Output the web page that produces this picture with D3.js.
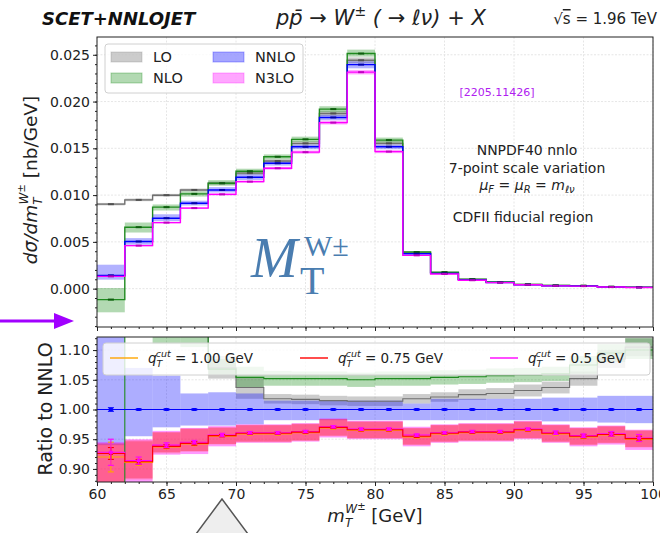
<!DOCTYPE html>
<html>
<head>
<meta charset="utf-8">
<script src="https://cdn.jsdelivr.net/npm/d3@7"></script>
<style>
body { margin: 0; background: #fff; }
text { font-family: "DejaVu Sans", sans-serif; }
</style>
</head>
<body>
<div id="chart"></div>
<script>
// bin edges (GeV)
var binEdges = [60, 62, 64, 66, 68, 70, 72, 74, 76, 78, 80, 82, 84, 86, 88, 90, 92, 94, 96, 98, 100];

// upper panel: d sigma / d mT  [nb/GeV]
var loC   = [0.00903, 0.00949, 0.00999, 0.01055, 0.01127, 0.01235, 0.01364, 0.01553, 0.01873, 0.02441, 0.01553, 0.00380, 0.00171, 0.00099, 0.00069, 0.00045, 0.00034, 0.00031, 0.00020, 0.00016];
var loLo  = [0.00890, 0.00935, 0.00985, 0.01040, 0.01110, 0.01215, 0.01345, 0.01530, 0.01845, 0.02410, 0.01530, 0.00374, 0.00168, 0.00097, 0.00068, 0.00044, 0.00033, 0.00030, 0.00019, 0.00015];
var loHi  = [0.00916, 0.00963, 0.01013, 0.01070, 0.01144, 0.01255, 0.01383, 0.01576, 0.01901, 0.02472, 0.01576, 0.00386, 0.00174, 0.00101, 0.00070, 0.00046, 0.00035, 0.00032, 0.00021, 0.00017];

var nloC  = [-0.00117, 0.00657, 0.00871, 0.01013, 0.01127, 0.01255, 0.01410, 0.01596, 0.01919, 0.02513, 0.01588, 0.00391, 0.00176, 0.00101, 0.00071, 0.00046, 0.00034, 0.00031, 0.00020, 0.00016];
var nloLo = [-0.00253, 0.00600, 0.00835, 0.00984, 0.01100, 0.01228, 0.01382, 0.01568, 0.01885, 0.02480, 0.01560, 0.00383, 0.00172, 0.00099, 0.00069, 0.00045, 0.00033, 0.00030, 0.00019, 0.00015];
var nloHi = [0.00007, 0.00707, 0.00900, 0.01040, 0.01160, 0.01282, 0.01435, 0.01625, 0.01950, 0.02555, 0.01615, 0.00399, 0.00180, 0.00103, 0.00073, 0.00047, 0.00035, 0.00032, 0.00021, 0.00017];

var nnloC  = [0.00142, 0.00504, 0.00753, 0.00913, 0.01055, 0.01190, 0.01340, 0.01517, 0.01830, 0.02395, 0.01517, 0.00373, 0.00163, 0.00094, 0.00066, 0.00042, 0.00031, 0.00028, 0.00018, 0.00014];
var nnloLo = [0.00096, 0.00470, 0.00722, 0.00889, 0.01028, 0.01162, 0.01315, 0.01490, 0.01800, 0.02355, 0.01490, 0.00366, 0.00160, 0.00092, 0.00065, 0.00041, 0.00030, 0.00027, 0.00017, 0.00013];
var nnloHi = [0.00256, 0.00540, 0.00795, 0.00940, 0.01085, 0.01222, 0.01362, 0.01540, 0.01858, 0.02430, 0.01540, 0.00380, 0.00166, 0.00096, 0.00067, 0.00043, 0.00032, 0.00029, 0.00019, 0.00015];

var n3loC  = [0.00131, 0.00460, 0.00706, 0.00861, 0.01008, 0.01144, 0.01287, 0.01459, 0.01775, 0.02314, 0.01465, 0.00356, 0.00157, 0.00090, 0.00064, 0.00041, 0.00030, 0.00027, 0.00017, 0.00013];
var n3loLo = [0.00125, 0.00452, 0.00697, 0.00851, 0.00996, 0.01131, 0.01272, 0.01442, 0.01755, 0.02290, 0.01448, 0.00351, 0.00155, 0.00089, 0.00063, 0.00040, 0.00029, 0.00026, 0.00016, 0.00012];
var n3loHi = [0.00137, 0.00468, 0.00715, 0.00871, 0.01020, 0.01157, 0.01302, 0.01476, 0.01795, 0.02338, 0.01482, 0.00361, 0.00159, 0.00091, 0.00065, 0.00042, 0.00031, 0.00028, 0.00018, 0.00014];

// lower panel: ratio to NNLO
var rLoC  = [6.40, 1.88, 1.33, 1.155, 1.070, 1.037, 1.018, 1.017, 1.015, 1.014, 1.014, 1.018, 1.021, 1.025, 1.027, 1.032, 1.037, 1.052, 1.085, 1.105];
var rLoLo = [6.20, 1.82, 1.30, 1.135, 1.052, 1.018, 1.010, 1.009, 1.007, 1.006, 1.006, 1.010, 1.013, 1.016, 1.018, 1.022, 1.027, 1.040, 1.070, 1.090];
var rLoHi = [6.60, 1.94, 1.36, 1.175, 1.090, 1.054, 1.026, 1.025, 1.023, 1.022, 1.022, 1.026, 1.029, 1.034, 1.036, 1.042, 1.047, 1.064, 1.100, 1.120];

var rNloC  = [-0.82, 1.30, 1.157, 1.125, 1.068, 1.054, 1.052, 1.052, 1.052, 1.050, 1.052, 1.052, 1.054, 1.055, 1.057, 1.058, 1.060, 1.075, 1.095, 1.100];
var rNloLo = [-1.78, 1.19, 1.110, 1.105, 1.058, 1.037, 1.040, 1.040, 1.040, 1.038, 1.040, 1.040, 1.042, 1.043, 1.045, 1.046, 1.048, 1.060, 1.080, 1.085];
var rNloHi = [0.05, 1.40, 1.200, 1.150, 1.085, 1.072, 1.065, 1.064, 1.064, 1.062, 1.064, 1.064, 1.066, 1.067, 1.069, 1.070, 1.072, 1.090, 1.110, 1.120];

var rNnloC   = [1, 1, 1, 1, 1, 1, 1, 1, 1, 1, 1, 1, 1, 1, 1, 1, 1, 1, 1, 1];
var rNnloLo  = [0.940, 0.955, 0.970, 0.973, 0.973, 0.975, 0.982, 0.982, 0.982, 0.982, 0.982, 0.982, 0.982, 0.982, 0.982, 0.982, 0.980, 0.980, 0.978, 0.977];
var rNnloHi  = [1.250, 1.070, 1.057, 1.027, 1.029, 1.027, 1.015, 1.015, 1.015, 1.015, 1.015, 1.010, 1.018, 1.018, 1.018, 1.018, 1.020, 1.020, 1.023, 1.023];
var rNnloErr = [0.003, 0.001, 0.001, 0.001, 0.001, 0.001, 0.001, 0.001, 0.001, 0.001, 0.001, 0.001, 0.001, 0.001, 0.001, 0.001, 0.001, 0.001, 0.001, 0.001];

// N3LO / NNLO for three qT cuts
var rQ100C  = [0.920, 0.911, 0.937, 0.942, 0.955, 0.959, 0.959, 0.961, 0.969, 0.965, 0.965, 0.954, 0.959, 0.961, 0.961, 0.965, 0.959, 0.954, 0.957, 0.950];
var rQ100Lo = [0.868, 0.882, 0.926, 0.929, 0.941, 0.945, 0.945, 0.947, 0.955, 0.951, 0.951, 0.940, 0.945, 0.947, 0.947, 0.951, 0.945, 0.940, 0.943, 0.936];
var rQ100Hi = [0.941, 0.946, 0.961, 0.967, 0.969, 0.973, 0.973, 0.975, 0.983, 0.979, 0.979, 0.968, 0.973, 0.975, 0.975, 0.979, 0.973, 0.968, 0.971, 0.964];
var rQ100Err = [0.025, 0.005, 0.003, 0.003, 0.002, 0.002, 0.002, 0.002, 0.002, 0.002, 0.002, 0.002, 0.002, 0.002, 0.002, 0.002, 0.002, 0.003, 0.003, 0.004];

var rQ075C  = [0.926, 0.912, 0.938, 0.943, 0.956, 0.960, 0.960, 0.962, 0.970, 0.966, 0.966, 0.955, 0.960, 0.962, 0.962, 0.966, 0.960, 0.955, 0.958, 0.951];
var rQ075Lo = [0.870, 0.884, 0.928, 0.930, 0.942, 0.946, 0.946, 0.948, 0.956, 0.952, 0.952, 0.941, 0.946, 0.948, 0.948, 0.952, 0.946, 0.941, 0.944, 0.937];
var rQ075Hi = [0.943, 0.948, 0.962, 0.968, 0.970, 0.974, 0.974, 0.976, 0.984, 0.980, 0.980, 0.969, 0.974, 0.976, 0.976, 0.980, 0.974, 0.969, 0.972, 0.965];
var rQ075Err = [0.010, 0.004, 0.003, 0.003, 0.002, 0.002, 0.002, 0.002, 0.002, 0.002, 0.002, 0.002, 0.002, 0.002, 0.002, 0.002, 0.002, 0.003, 0.003, 0.004];

var rQ050C  = [0.928, 0.914, 0.940, 0.945, 0.957, 0.961, 0.961, 0.963, 0.971, 0.967, 0.967, 0.957, 0.961, 0.963, 0.963, 0.967, 0.961, 0.956, 0.959, 0.952];
var rQ050Lo = [0.870, 0.878, 0.924, 0.925, 0.938, 0.944, 0.944, 0.946, 0.953, 0.950, 0.950, 0.938, 0.944, 0.946, 0.946, 0.950, 0.944, 0.938, 0.941, 0.932];
var rQ050Hi = [0.945, 0.950, 0.964, 0.969, 0.972, 0.975, 0.975, 0.977, 0.985, 0.981, 0.981, 0.971, 0.975, 0.977, 0.977, 0.981, 0.975, 0.970, 0.973, 0.966];
var rQ050Err = [0.022, 0.006, 0.004, 0.003, 0.003, 0.002, 0.002, 0.002, 0.002, 0.002, 0.002, 0.002, 0.002, 0.002, 0.002, 0.002, 0.003, 0.003, 0.004, 0.006];

var upperTicks = [0.000, 0.005, 0.010, 0.015, 0.020, 0.025];
var lowerTicks = [0.90, 0.95, 1.00, 1.05, 1.10];
var xTicks = [60, 65, 70, 75, 80, 85, 90, 95, 100];

function init() {
    var w = 660;
    var h = 533;
    var left = 97, right = 653;
    var upTop = 37, upBot = 327;
    var loTop = 337, loBot = 482;
    var font = "DejaVu Sans";

    var x = d3.scaleLinear().domain([60, 100]).range([left, right]);
    var yU = d3.scaleLinear().domain([-0.0041, 0.0269]).range([upBot, upTop]);
    var yL = d3.scaleLinear().domain([0.878, 1.122]).range([loBot, loTop]);

    var svg = d3.select("#chart")
        .append("svg")
        .attr("width", w)
        .attr("height", h);

    var defs = svg.append("defs");
    defs.append("clipPath").attr("id", "clipU").append("rect")
        .attr("x", left).attr("y", upTop).attr("width", right - left).attr("height", upBot - upTop);
    defs.append("clipPath").attr("id", "clipL").append("rect")
        .attr("x", left).attr("y", loTop).attr("width", right - left).attr("height", loBot - loTop);

    // grids
    function grid(y, ticks, top, bot) {
        var g = svg.append("g").attr("stroke", "#e0e0e0").attr("stroke-width", 0.8).attr("stroke-dasharray", "2,1.5");
        xTicks.forEach(function(t) {
            g.append("line").attr("x1", x(t)).attr("x2", x(t)).attr("y1", top).attr("y2", bot);
        });
        ticks.forEach(function(t) {
            g.append("line").attr("x1", left).attr("x2", right).attr("y1", y(t)).attr("y2", y(t));
        });
    }
    grid(yU, upperTicks, upTop, upBot);
    grid(yL, lowerTicks, loTop, loBot);

    var step = function(y, vals) {
        var pts = vals.map(function(v, i) { return [binEdges[i], v]; });
        pts.push([binEdges[binEdges.length - 1], vals[vals.length - 1]]);
        return d3.line().curve(d3.curveStepAfter)
            .x(function(d) { return x(d[0]); })
            .y(function(d) { return y(d[1]); })(pts);
    };

    function band(layer, y, lo, hi, color, op) {
        layer.append("g").selectAll("rect")
            .data(lo)
            .join("rect")
            .attr("x", function(d, i) { return x(binEdges[i]); })
            .attr("width", function(d, i) { return x(binEdges[i + 1]) - x(binEdges[i]); })
            .attr("y", function(d, i) { return y(Math.max(lo[i], hi[i])); })
            .attr("height", function(d, i) { return Math.abs(y(lo[i]) - y(hi[i])); })
            .attr("fill", color)
            .attr("fill-opacity", op);
    }

    function stepLine(layer, y, vals, color, width) {
        layer.append("path")
            .attr("d", step(y, vals))
            .attr("fill", "none")
            .attr("stroke", color)
            .attr("stroke-width", width || 1.4);
    }

    function caps(layer, y, vals, color) {
        layer.append("g").selectAll("line")
            .data(vals)
            .join("line")
            .attr("x1", function(d, i) { return x((binEdges[i] + binEdges[i + 1]) / 2) - 3; })
            .attr("x2", function(d, i) { return x((binEdges[i] + binEdges[i + 1]) / 2) + 3; })
            .attr("y1", function(d) { return y(d); })
            .attr("y2", function(d) { return y(d); })
            .attr("stroke", color)
            .attr("stroke-width", 2);
    }

    function errBars(layer, y, vals, errs, color) {
        var g = layer.append("g").attr("stroke", color).attr("stroke-width", 1.1);
        vals.forEach(function(v, i) {
            var cx = x((binEdges[i] + binEdges[i + 1]) / 2);
            g.append("line").attr("x1", cx).attr("x2", cx).attr("y1", y(v - errs[i])).attr("y2", y(v + errs[i]));
            g.append("line").attr("x1", cx - 3).attr("x2", cx + 3).attr("y1", y(v - errs[i])).attr("y2", y(v - errs[i]));
            g.append("line").attr("x1", cx - 3).attr("x2", cx + 3).attr("y1", y(v + errs[i])).attr("y2", y(v + errs[i]));
            g.append("rect").attr("x", cx - 2).attr("y", y(v) - 1.5).attr("width", 4).attr("height", 3)
                .attr("fill", color).attr("stroke", "none");
        });
    }

    // ---- upper panel ----
    var up = svg.append("g").attr("clip-path", "url(#clipU)");
    band(up, yU, loLo, loHi, "#808080", 0.4);
    band(up, yU, nloLo, nloHi, "#008000", 0.3);
    band(up, yU, nnloLo, nnloHi, "#0000ff", 0.3);
    band(up, yU, n3loLo, n3loHi, "#ff00ff", 0.35);
    stepLine(up, yU, loC, "#707070");
    stepLine(up, yU, nloC, "#1f8a1f");
    stepLine(up, yU, nnloC, "#0000ff");
    stepLine(up, yU, n3loC, "#ff00ff");
    caps(up, yU, loC, "#505050");
    caps(up, yU, nloC, "#0d5e0d");
    caps(up, yU, nnloC, "#0000aa");
    caps(up, yU, n3loC, "#c000c0");

    // ---- lower panel ----
    var lo = svg.append("g").attr("clip-path", "url(#clipL)");
    band(lo, yL, rLoLo, rLoHi, "#808080", 0.4);
    band(lo, yL, rNloLo, rNloHi, "#008000", 0.3);
    band(lo, yL, rNnloLo, rNnloHi, "#0000ff", 0.32);
    band(lo, yL, rQ100Lo, rQ100Hi, "#ffa500", 0.3);
    band(lo, yL, rQ050Lo, rQ050Hi, "#ff00ff", 0.4);
    band(lo, yL, rQ075Lo, rQ075Hi, "#ff0000", 0.3);
    stepLine(lo, yL, rLoC, "#707070", 1.1);
    stepLine(lo, yL, rNloC, "#1f8a1f", 1.1);
    stepLine(lo, yL, rNnloC, "#0000ff", 1.1);
    stepLine(lo, yL, rQ100C, "#ffa500", 1.1);
    stepLine(lo, yL, rQ050C, "#ff00ff", 1.1);
    stepLine(lo, yL, rQ075C, "#ff0000", 1.1);
    errBars(lo, yL, rNnloC, rNnloErr, "#0000ff");
    errBars(lo, yL, rQ100C, rQ100Err, "#ffa500");
    errBars(lo, yL, rQ075C, rQ075Err, "#ff0000");
    errBars(lo, yL, rQ050C, rQ050Err, "#ff00ff");

    // ---- axes ----
    function styleAxis(g) {
        g.select(".domain").remove();
        g.attr("font-size", 14).attr("font-family", font);
        g.selectAll(".tick line").attr("stroke", "#222");
        g.selectAll(".tick text").attr("fill", "#222");
    }
    var xMinor = d3.range(60, 101, 1);

    svg.append("g").attr("transform", "translate(0," + upBot + ")")
        .call(d3.axisBottom(x).tickValues(xTicks).tickSize(4).tickFormat("")).call(styleAxis);
    svg.append("g").attr("transform", "translate(0," + upBot + ")")
        .call(d3.axisBottom(x).tickValues(xMinor).tickSize(2).tickFormat("")).call(styleAxis);
    svg.append("g").attr("transform", "translate(" + left + ",0)")
        .call(d3.axisLeft(yU).tickValues(upperTicks).tickSize(4).tickPadding(3).tickFormat(d3.format(".3f"))).call(styleAxis);
    svg.append("g").attr("transform", "translate(" + left + ",0)")
        .call(d3.axisLeft(yU).tickValues(d3.range(-0.004, 0.0265, 0.001)).tickSize(2).tickFormat("")).call(styleAxis);

    svg.append("g").attr("transform", "translate(0," + loBot + ")")
        .call(d3.axisBottom(x).tickValues(xTicks).tickSize(4).tickPadding(3).tickFormat(d3.format("d"))).call(styleAxis);
    svg.append("g").attr("transform", "translate(0," + loBot + ")")
        .call(d3.axisBottom(x).tickValues(xMinor).tickSize(2).tickFormat("")).call(styleAxis);
    svg.append("g").attr("transform", "translate(" + left + ",0)")
        .call(d3.axisLeft(yL).tickValues(lowerTicks).tickSize(4).tickPadding(3).tickFormat(d3.format(".2f"))).call(styleAxis);
    svg.append("g").attr("transform", "translate(" + left + ",0)")
        .call(d3.axisLeft(yL).tickValues(d3.range(0.88, 1.121, 0.01)).tickSize(2).tickFormat("")).call(styleAxis);

    // frames
    svg.append("rect").attr("x", left).attr("y", upTop).attr("width", right - left).attr("height", upBot - upTop)
        .attr("fill", "none").attr("stroke", "#222").attr("stroke-width", 1);
    svg.append("rect").attr("x", left).attr("y", loTop).attr("width", right - left).attr("height", loBot - loTop)
        .attr("fill", "none").attr("stroke", "#222").attr("stroke-width", 1);

    // ---- legends ----
    svg.append("rect").attr("x", 105).attr("y", 44).attr("width", 198).attr("height", 49).attr("rx", 3)
        .attr("fill", "#fff").attr("fill-opacity", 0.8).attr("stroke", "#d0d0d0");
    var legItems = [
        { name: "LO", color: "#808080", op: 0.4, x: 111, y: 52 },
        { name: "NLO", color: "#008000", op: 0.3, x: 111, y: 73 },
        { name: "NNLO", color: "#0000ff", op: 0.35, x: 213, y: 52 },
        { name: "N3LO", color: "#ff00ff", op: 0.35, x: 213, y: 73 }
    ];
    legItems.forEach(function(d) {
        svg.append("rect").attr("x", d.x).attr("y", d.y).attr("width", 31).attr("height", 10)
            .attr("fill", d.color).attr("fill-opacity", d.op).attr("stroke", d.color).attr("stroke-opacity", 0.3);
        svg.append("text").attr("x", d.x + 42).attr("y", d.y + 10).attr("font-size", 14.5).attr("fill", "#222").text(d.name);
    });

    svg.append("rect").attr("x", 103).attr("y", 343).attr("width", 547).attr("height", 32).attr("rx", 3)
        .attr("fill", "#fff").attr("fill-opacity", 0.8).attr("stroke", "#d0d0d0");
    var qItems = [
        { val: "1.00", color: "#ffa500", x: 110 },
        { val: "0.75", color: "#ff0000", x: 300 },
        { val: "0.5", color: "#ff00ff", x: 490 }
    ];
    qItems.forEach(function(d) {
        svg.append("line").attr("x1", d.x).attr("x2", d.x + 28).attr("y1", 358).attr("y2", 358)
            .attr("stroke", d.color).attr("stroke-width", 1.4);
        var t = svg.append("text").attr("x", d.x + 38).attr("y", 363).attr("font-size", 13.5).attr("fill", "#222");
        t.append("tspan").attr("font-style", "italic").text("q");
        t.append("tspan").attr("font-style", "italic").attr("font-size", 9.5).attr("dy", 4).text("T");
        t.append("tspan").attr("font-style", "italic").attr("font-size", 9.5).attr("dx", -5.5).attr("dy", -10).text("cut");
        t.append("tspan").attr("dy", 6).text(" = " + d.val + " GeV");
    });

    // ---- axis labels ----
    var yl = svg.append("text").attr("transform", "translate(37,180) rotate(-90)")
        .attr("text-anchor", "middle").attr("font-size", 18.5).attr("fill", "#222");
    yl.append("tspan").attr("font-style", "italic").text("dσ/dm");
    yl.append("tspan").attr("font-style", "italic").attr("font-size", 12).attr("dy", 5).text("T");
    yl.append("tspan").attr("font-style", "italic").attr("font-size", 12).attr("dx", -7).attr("dy", -14).text("W");
    yl.append("tspan").attr("font-size", 10).attr("dy", -3).text("±");
    yl.append("tspan").attr("dy", 12).text(" [nb/GeV]");

    svg.append("text").attr("transform", "translate(52,409) rotate(-90)")
        .attr("text-anchor", "middle").attr("font-size", 19).attr("fill", "#222").text("Ratio to NNLO");

    var xl = svg.append("text").attr("x", 375).attr("y", 522)
        .attr("text-anchor", "middle").attr("font-size", 18).attr("fill", "#222");
    xl.append("tspan").attr("font-style", "italic").text("m");
    xl.append("tspan").attr("font-style", "italic").attr("font-size", 12).attr("dy", 5).text("T");
    xl.append("tspan").attr("font-style", "italic").attr("font-size", 12).attr("dx", -7).attr("dy", -14).text("W");
    xl.append("tspan").attr("font-size", 10).attr("dy", -3).text("±");
    xl.append("tspan").attr("dy", 12).text(" [GeV]");

    // ---- header ----
    svg.append("text").attr("x", 42).attr("y", 25).attr("font-size", 18).attr("font-weight", "bold")
        .attr("font-style", "italic").attr("fill", "#111").text("SCET+NNLOJET");
    var tt = svg.append("text").attr("x", 276).attr("y", 25).attr("font-size", 21).attr("font-style", "italic").attr("fill", "#222");
    tt.append("tspan").text("pp\u0304 \u2192 W");
    tt.append("tspan").attr("font-size", 14).attr("dy", -9).text("\u00b1");
    tt.append("tspan").attr("dy", 9).text(" ( \u2192 \u2113\u03bd)  +  X");
    var sq = svg.append("text").attr("x", 657).attr("y", 24).attr("text-anchor", "end").attr("font-size", 15).attr("fill", "#222");
    sq.append("tspan").text("\u221a");
    sq.append("tspan").attr("text-decoration", "overline").text("s");
    sq.append("tspan").text(" = 1.96 TeV");

    // ---- annotations ----
    svg.append("text").attr("x", 497).attr("y", 96).attr("text-anchor", "middle").attr("font-size", 11)
        .attr("fill", "#b020f0").text("[2205.11426]");
    var notes = [
        { t: "NNPDF40 nnlo", y: 155 },
        { t: "7-point scale variation", y: 173 }
    ];
    notes.forEach(function(d) {
        svg.append("text").attr("x", 527).attr("y", d.y).attr("text-anchor", "middle").attr("font-size", 14)
            .attr("fill", "#222").text(d.t);
    });
    var mu = svg.append("text").attr("x", 527).attr("y", 190).attr("text-anchor", "middle").attr("font-size", 14)
        .attr("font-style", "italic").attr("fill", "#222");
    mu.append("tspan").text("\u03bc");
    mu.append("tspan").attr("font-size", 10).attr("dy", 3).text("F");
    mu.append("tspan").attr("dy", -3).text(" = \u03bc");
    mu.append("tspan").attr("font-size", 10).attr("dy", 3).text("R");
    mu.append("tspan").attr("dy", -3).text(" = m");
    mu.append("tspan").attr("font-size", 10).attr("dy", 3).text("\u2113\u03bd");
    svg.append("text").attr("x", 523).attr("y", 222).attr("text-anchor", "middle").attr("font-size", 14)
        .attr("fill", "#222").text("CDFII fiducial region");

    // big M_T^W label (serif)
    var serif = "'Liberation Serif', 'DejaVu Serif', serif";
    svg.append("text").attr("x", 251).attr("y", 277).style("font-family", serif).attr("font-style", "italic")
        .attr("font-size", 56).attr("fill", "#4a7db0").text("M");
    svg.append("text").attr("x", 300).attr("y", 294).style("font-family", serif)
        .attr("font-size", 40).attr("fill", "#4a7db0").text("T");
    svg.append("text").attr("x", 304).attr("y", 256).style("font-family", serif)
        .attr("font-size", 30).attr("fill", "#4a7db0").text("W\u00b1");

    // purple arrow
    svg.append("line").attr("x1", 0).attr("x2", 58).attr("y1", 321).attr("y2", 321)
        .attr("stroke", "#a100ff").attr("stroke-width", 3);
    svg.append("polygon").attr("points", "54,313 74,321 54,329").attr("fill", "#a100ff");

    // grey triangle at the bottom
    svg.append("polygon").attr("points", "222,499 196,534 248,534")
        .attr("fill", "#eeeeee").attr("stroke", "#555").attr("stroke-width", 1.5);
}

window.onload = init;
</script>
</body>
</html>
